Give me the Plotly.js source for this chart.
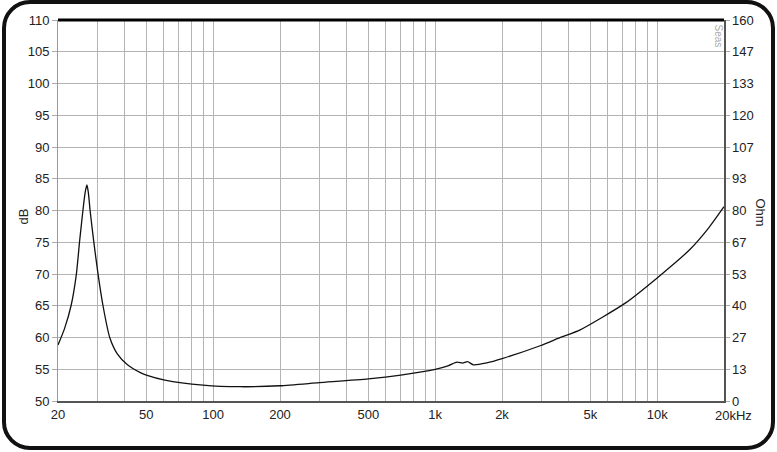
<!DOCTYPE html>
<html>
<head>
<meta charset="utf-8">
<script src="https://cdn.plot.ly/plotly-3.0.1.min.js"></script>
<style>
  html, body { margin: 0; padding: 0; background: #fff; }
  #wrap { position: relative; width: 777px; height: 452px; }
  #chart { position: absolute; left: 0; top: 0; width: 777px; height: 452px; }
  #frame { position: absolute; left: 2px; top: 0px; width: 773px; height: 450px;
           box-sizing: border-box; border: 4px solid #111; border-radius: 28px;
           pointer-events: none; }
</style>
</head>
<body>
<div id="wrap">
  <div id="chart"></div>
  <div id="frame"></div>
</div>
<script>
// Impedance curve (frequency in Hz, impedance in Ohm)
const freqHz = [20, 21.4, 22.9, 24.2, 25.0, 25.9, 26.5, 27.0, 27.4, 27.9, 29.0, 30.3, 31.9, 34.2, 37, 41.1, 47, 50, 60.6, 90, 132, 200, 300, 500, 700, 1000, 1150, 1254, 1329, 1400, 1485, 1708, 2020, 2970, 3670, 4500, 7180, 10000, 14000, 17000, 20000];
const impedanceOhm = [23.5, 30.4, 40.0, 53.3, 66.7, 80.0, 87.5, 90.7, 87.5, 80.0, 66.7, 53.3, 40.0, 26.7, 19.8, 15.2, 11.9, 10.9, 8.8, 6.7, 6.0, 6.4, 7.7, 9.3, 10.9, 13.3, 14.9, 16.3, 15.9, 16.5, 15.2, 16.0, 17.9, 23.2, 26.7, 29.9, 41.1, 51.7, 63.5, 72.5, 81.6];

// Axes
const xGridFreqs = [20,30,40,50,60,70,80,90,100,200,300,400,500,600,700,800,900,1000,2000,3000,4000,5000,6000,7000,8000,9000,10000,20000];
const xLabelFreqs = [20, 50, 100, 200, 500, 1000, 2000, 5000, 10000];
const xLabelText  = ['20', '50', '100', '200', '500', '1k', '2k', '5k', '10k'];
const lastXLabel = '20kHz';
const dbTicks = [50, 55, 60, 65, 70, 75, 80, 85, 90, 95, 100, 105, 110];
const ohmTickText = ['0','13','27','40','53','67','80','93','107','120','133','147','160'];
const ohmRange = [0, 160];
const dbRange = [50, 110];

const xTickText = xGridFreqs.map(f => {
  const i = xLabelFreqs.indexOf(f);
  return i >= 0 ? xLabelText[i] : '';
});
const ohmTickVals = ohmTickText.map((t, i) => ohmRange[0] + i * (ohmRange[1] - ohmRange[0]) / (ohmTickText.length - 1));

const FONT = 'Liberation Sans, Arial, sans-serif';
const gridCol = '#b4b4b4';

const trace = {
  x: freqHz, y: impedanceOhm, yaxis: 'y2', type: 'scatter', mode: 'lines',
  line: { color: '#111', width: 1.3, shape: 'spline', smoothing: 0.6 },
  hoverinfo: 'skip'
};
// empty trace so the left (dB) axis and its grid are drawn
const dbAxisTrace = { x: [], y: [], xaxis: 'x', yaxis: 'y', type: 'scatter', mode: 'lines', hoverinfo: 'skip' };

const layout = {
  width: 777, height: 452,
  margin: { l: 58, r: 53, t: 20, b: 51 },
  paper_bgcolor: '#fff', plot_bgcolor: '#fff',
  showlegend: false,
  font: { family: FONT, size: 13, color: '#222' },
  xaxis: {
    type: 'log', range: [Math.log10(20), Math.log10(20000)],
    tickmode: 'array', tickvals: xGridFreqs, ticktext: xTickText,
    showgrid: true, gridcolor: gridCol, gridwidth: 1,
    showline: true, linecolor: '#555', linewidth: 2,
    ticks: '', zeroline: false,
    tickfont: { family: FONT, size: 13, color: '#222' }
  },
  yaxis: {
    range: dbRange, tickmode: 'array', tickvals: dbTicks,
    showgrid: true, gridcolor: gridCol, gridwidth: 1,
    showline: true, linecolor: '#999', linewidth: 1,
    ticks: 'outside', ticklen: 5, tickcolor: '#aaa',
    zeroline: false,
    tickfont: { family: FONT, size: 13, color: '#222' }
  },
  yaxis2: {
    range: ohmRange, overlaying: 'y', side: 'right',
    tickmode: 'array', tickvals: ohmTickVals, ticktext: ohmTickText,
    showgrid: false, showline: true, linecolor: '#555', linewidth: 1.5,
    ticks: 'outside', ticklen: 4, tickcolor: '#aaa',
    zeroline: false,
    tickfont: { family: FONT, size: 13, color: '#222' }
  },
  shapes: [
    { type: 'line', xref: 'paper', yref: 'paper', x0: 0, x1: 1, y0: 1, y1: 1,
      line: { color: '#000', width: 3 } }
  ],
  annotations: [
    { text: lastXLabel, xref: 'paper', yref: 'paper', x: 1, y: 0,
      xanchor: 'left', yanchor: 'top', xshift: -11, yshift: -5, showarrow: false,
      font: { family: FONT, size: 13, color: '#222' } },
    { text: 'dB', xref: 'paper', yref: 'paper', x: -0.0518, y: 0.483,
      xanchor: 'center', yanchor: 'middle',
      textangle: -90, showarrow: false,
      font: { family: FONT, size: 13, color: '#222' } },
    { text: 'Ohm', xref: 'paper', yref: 'paper', x: 1.0556, y: 0.495,
      xanchor: 'center', yanchor: 'middle',
      textangle: 90, showarrow: false,
      font: { family: FONT, size: 13, color: '#222' } },
    { text: 'Seas', xref: 'paper', yref: 'paper', x: 0.991, y: 1,
      xanchor: 'center', yanchor: 'top', yshift: -2,
      textangle: 90, showarrow: false,
      font: { family: FONT, size: 10, color: '#aaa' } }
  ]
};

Plotly.newPlot('chart', [dbAxisTrace, trace], layout, { staticPlot: true, displayModeBar: false });
</script>
</body>
</html>
